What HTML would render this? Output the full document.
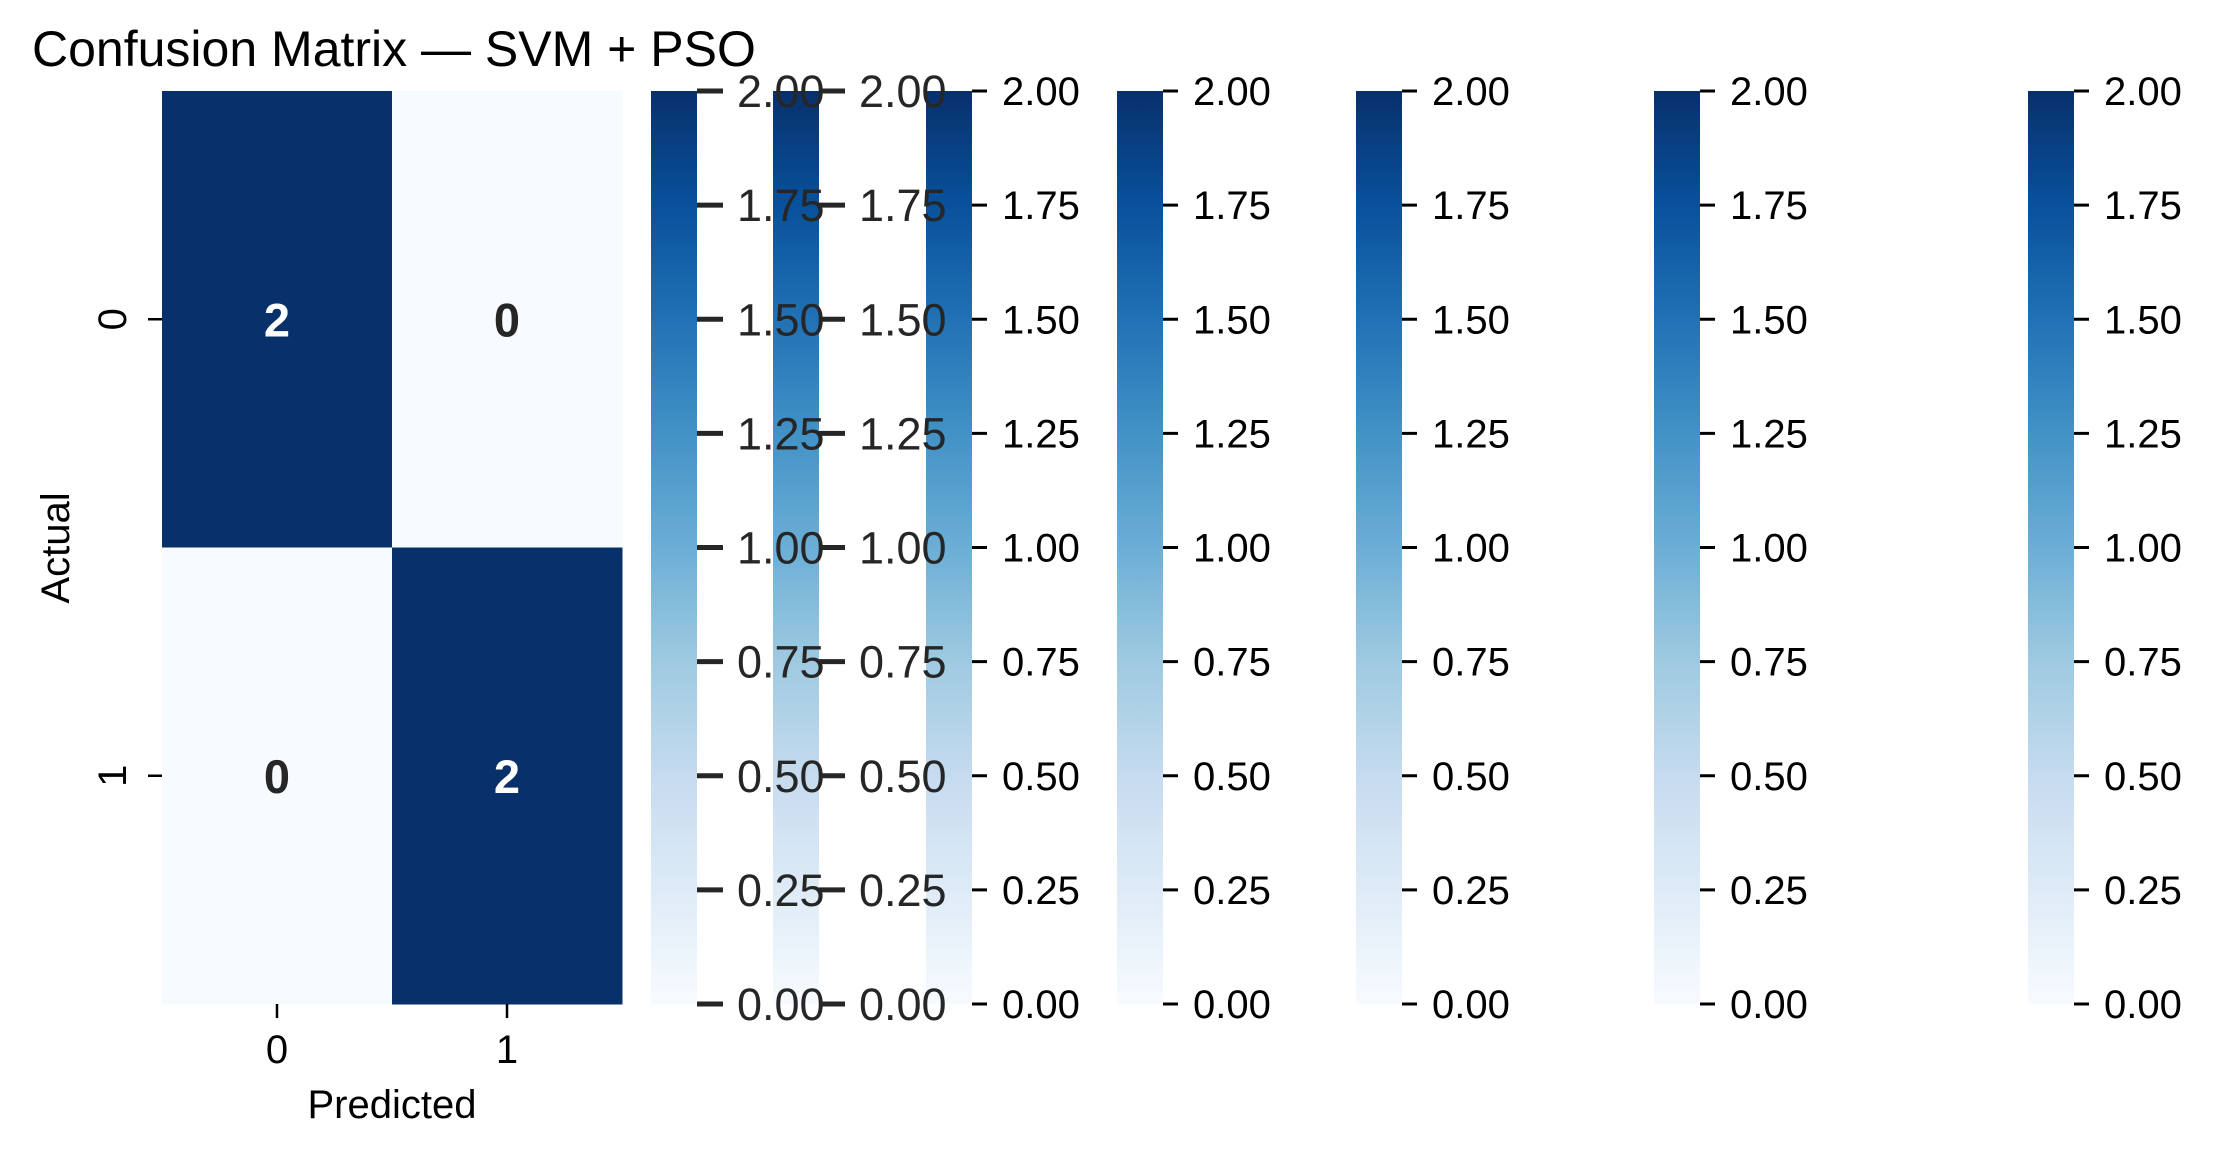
<!DOCTYPE html>
<html><head><meta charset="utf-8"><style>
html,body{margin:0;padding:0;background:#fff;}
svg{display:block;font-family:"Liberation Sans",Arial,sans-serif;}
</style></head><body>
<svg id="chart" width="2213" height="1156" viewBox="0 0 2213 1156" xmlns="http://www.w3.org/2000/svg">
<defs>
<linearGradient id="blues" x1="0" y1="1" x2="0" y2="0">
<stop offset="0" stop-color="#f7fbff"/><stop offset="0.125" stop-color="#deebf7"/>
<stop offset="0.25" stop-color="#c6dbef"/><stop offset="0.375" stop-color="#9ecae1"/>
<stop offset="0.5" stop-color="#6baed6"/><stop offset="0.625" stop-color="#4292c6"/>
<stop offset="0.75" stop-color="#2171b5"/><stop offset="0.875" stop-color="#08519c"/>
<stop offset="1" stop-color="#08306b"/>
</linearGradient>
</defs>
<text x="32" y="66" font-size="50" fill="#000">Confusion Matrix — SVM + PSO</text>
<g id="heat"></g>
<g id="cbars"></g>
<g id="cbarlabels"></g>
<text x="392" y="1118" font-size="40" text-anchor="middle" fill="#000">Predicted</text>
<text transform="translate(69,548) rotate(-90)" font-size="40" text-anchor="middle" fill="#000">Actual</text>
</svg>
<script>
const classLabels = ["0", "1"];
const matrixValues = [[2, 0], [0, 2]];
const cbarTicks = [0, 0.25, 0.5, 0.75, 1.0, 1.25, 1.5, 1.75, 2.0];
const vmin = 0, vmax = 2;

const NS = "http://www.w3.org/2000/svg";
const L = 162, R = 622, T = 91, B = 1004;
const n = classLabels.length;
const cw = (R - L) / n, ch = (B - T) / n;
const xPos = i => L + cw * (i + 0.5);
const yPos = i => T + ch * (i + 0.5);
const cmapStops = ["#f7fbff","#deebf7","#c6dbef","#9ecae1","#6baed6","#4292c6","#2171b5","#08519c","#08306b"];
function hex2rgb(h){return [1,3,5].map(k=>parseInt(h.substr(k,2),16));}
function color(v){
  let t = Math.max(0, Math.min(1, (v - vmin) / (vmax - vmin))) * (cmapStops.length - 1);
  let i = Math.min(Math.floor(t), cmapStops.length - 2), f = t - i;
  const a = hex2rgb(cmapStops[i]), b = hex2rgb(cmapStops[i+1]);
  return "rgb(" + a.map((x,k)=>Math.round(x + (b[k]-x)*f)).join(",") + ")";
}
function mk(tag, attrs, parent){const e=document.createElementNS(NS,tag);for(const k in attrs)e.setAttribute(k,attrs[k]);parent.appendChild(e);return e;}
const heat = document.getElementById("heat");
for (let r = 0; r < n; r++) for (let c = 0; c < n; c++) {
  const v = matrixValues[r][c];
  const rect = mk("rect", {x: L + c*cw, y: T + r*ch, width: cw + 0.5, height: ch + 0.5, fill: color(v)}, heat);
  
  
  const t = mk("text", {x: xPos(c), y: yPos(r) + 17, "text-anchor": "middle", "font-size": 47, "font-weight": "bold", fill: v > (vmax+vmin)/2 ? "#fff" : "#262626"}, heat);
  t.textContent = v;
  
  
}
classLabels.forEach((lab, i) => {
  const tk = mk("line", {x1: xPos(i), x2: xPos(i), y1: B, y2: B + 14, stroke: "#000", "stroke-width": 2.5}, heat);
  
  
  const tl = mk("text", {x: xPos(i), y: 1063, "text-anchor": "middle", "font-size": 40, fill: "#000"}, heat);
  tl.textContent = lab;
  
  
  const yt = mk("line", {x1: L - 14, x2: L, y1: yPos(i), y2: yPos(i), stroke: "#000", "stroke-width": 2.5}, heat);
  
  
  const yl = mk("text", {transform: "translate(126," + yPos(i) + ") rotate(-90)", "text-anchor": "middle", "font-size": 40, fill: "#000"}, heat);
  yl.textContent = lab;
  
  
});
// colorbar layout
const cbarX = [651, 773, 926, 1117, 1356, 1654, 2028];
const cbarBig = [true, true, false, false, false, false, false];
const cbarW = 46;
const cy = v => B - (v - vmin) / (vmax - vmin) * (B - T);
const cb = document.getElementById("cbars");
const cbl = document.getElementById("cbarlabels");
cbarX.forEach((x, k) => {
  const bar = mk("rect", {x: x, y: T, width: cbarW, height: B - T, fill: "url(#blues)"}, cb);
  
  
});
cbarX.forEach((x, k) => {
  const g = mk("g", {}, cbl);
  
  
  const big = cbarBig[k];
  cbarTicks.forEach(v => {
    const tk = mk("line", {x1: x + cbarW, x2: x + cbarW + (big ? 26 : 15), y1: cy(v), y2: cy(v), stroke: big ? "#262626" : "#000", "stroke-width": big ? 5 : 3}, g);
    
    
    const tl = mk("text", {x: x + cbarW + (big ? 40 : 30), y: cy(v) + (big ? 16 : 14), "font-size": big ? 45 : 40, fill: big ? "#262626" : "#000"}, g);
    tl.textContent = v.toFixed(2);
    
    
  });
});
</script>
</body></html>
